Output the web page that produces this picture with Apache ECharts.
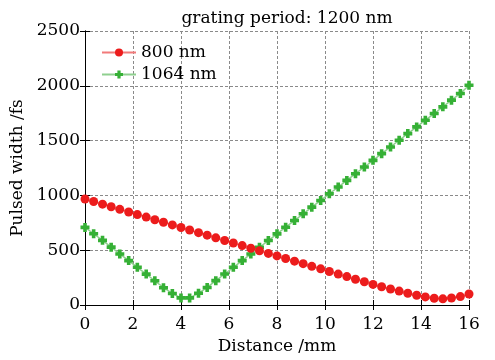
<!DOCTYPE html>
<html>
<head>
<meta charset="utf-8">
<script src="https://cdn.jsdelivr.net/npm/echarts@6/dist/echarts.min.js"></script>
<style>
  html, body { margin: 0; padding: 0; background: #fff; }
  #chart { width: 495px; height: 360px; }
</style>
</head>
<body>
<div id="chart"></div>
<script>
const distance = [0, 0.36, 0.73, 1.09, 1.45, 1.82, 2.18, 2.55, 2.91, 3.27, 3.64, 4.0, 4.36, 4.73, 5.09,
  5.45, 5.82, 6.18, 6.55, 6.91, 7.27, 7.64, 8.0, 8.36, 8.73, 9.09, 9.45, 9.82, 10.18, 10.55,
  10.91, 11.27, 11.64, 12.0, 12.36, 12.73, 13.09, 13.45, 13.82, 14.18, 14.55, 14.91, 15.27, 15.64, 16.0];
const width800 = [967, 944, 920, 896, 873, 849, 825, 802, 778, 755, 731, 707, 684, 660, 637,
  613, 589, 566, 542, 518, 495, 471, 448, 424, 400, 377, 353, 330, 306, 282,
  259, 235, 212, 188, 166, 146, 127, 107, 89, 74, 62, 56, 64, 77, 100];
const width1064 = [708, 650, 590, 528, 466, 405, 344, 282, 221, 158, 105, 65, 65, 107, 160,
  222, 283, 344, 405, 466, 527, 588, 649, 710, 771, 832, 893, 954, 1015, 1076,
  1137, 1198, 1259, 1320, 1381, 1442, 1503, 1564, 1625, 1686, 1747, 1808, 1869, 1930, 2005];
const xTicks = [0, 16, 2];
const yTicks = [0, 2500, 500];

const font = "DejaVu Serif";
const pair = (ys) => distance.map((x, i) => [x, ys[i]]);

const chart = echarts.init(document.getElementById("chart"));

const frameAxis = {
  axisLine: { show: true, lineStyle: { color: "#000", width: 1 } },
  axisTick: { show: true, inside: true, length: 5, lineStyle: { color: "#000" } },
  axisLabel: { show: false },
  splitLine: { show: false },
};

chart.setOption({
  animation: false,
  title: {
    text: "grating period: 1200 nm",
    left: 282,
    textAlign: "center",
    top: 5,
    textStyle: { fontFamily: font, fontSize: 17, fontWeight: "normal", color: "#000" },
  },
  legend: {
    orient: "vertical",
    left: 96,
    top: 39,
    itemWidth: 34,
    itemHeight: 10,
    itemGap: 5,
    textStyle: { fontFamily: font, fontSize: 17, color: "#000" },
    data: ["800 nm", "1064 nm"],
  },
  grid: { left: 85, right: 26, top: 31, bottom: 51 },
  xAxis: [
    {
      type: "value",
      min: xTicks[0],
      max: xTicks[1],
      interval: xTicks[2],
      name: "Distance /mm",
      nameLocation: "middle",
      nameGap: 33,
      nameTextStyle: { fontFamily: font, fontSize: 17, color: "#000" },
      axisLine: { show: true, lineStyle: { color: "#000", width: 1 } },
      axisTick: { show: true, inside: true, length: 5, lineStyle: { color: "#000" } },
      axisLabel: { fontFamily: font, fontSize: 17, color: "#000", margin: 11 },
      splitLine: { show: true, lineStyle: { color: "#8a8a8a", type: [3, 2], width: 1 } },
    },
    Object.assign({ type: "value", position: "top", min: xTicks[0], max: xTicks[1], interval: xTicks[2] }, frameAxis),
  ],
  yAxis: [
    {
      type: "value",
      min: yTicks[0],
      max: yTicks[1],
      interval: yTicks[2],
      name: "Pulsed width /fs",
      nameLocation: "middle",
      nameGap: 48,
      nameTextStyle: { fontFamily: font, fontSize: 17, color: "#000" },
      axisLine: { show: true, lineStyle: { color: "#000", width: 1 } },
      axisTick: { show: true, inside: true, length: 5, lineStyle: { color: "#000" } },
      axisLabel: { fontFamily: font, fontSize: 17, color: "#000", margin: 5, formatter: (v) => String(v) },
      splitLine: { show: true, lineStyle: { color: "#8a8a8a", type: [3, 2], width: 1 } },
    },
    Object.assign({ type: "value", position: "right", min: yTicks[0], max: yTicks[1], interval: yTicks[2] }, frameAxis),
  ],
  series: [
    {
      name: "800 nm",
      type: "line",
      data: pair(width800),
      symbol: "circle",
      symbolSize: 9,
      itemStyle: { color: "#ec1c1c" },
      lineStyle: { color: "#f27a7a", width: 1.5 },
      z: 3,
    },
    {
      name: "1064 nm",
      type: "line",
      data: pair(width1064),
      symbol: "path://M3,0h4v3h3v4h-3v3h-4v-3h-3v-4h3z",
      symbolSize: 9,
      itemStyle: { color: "#35b035" },
      lineStyle: { color: "#8fd08f", width: 1.5 },
      z: 2,
    },
  ],
});
</script>
</body>
</html>
